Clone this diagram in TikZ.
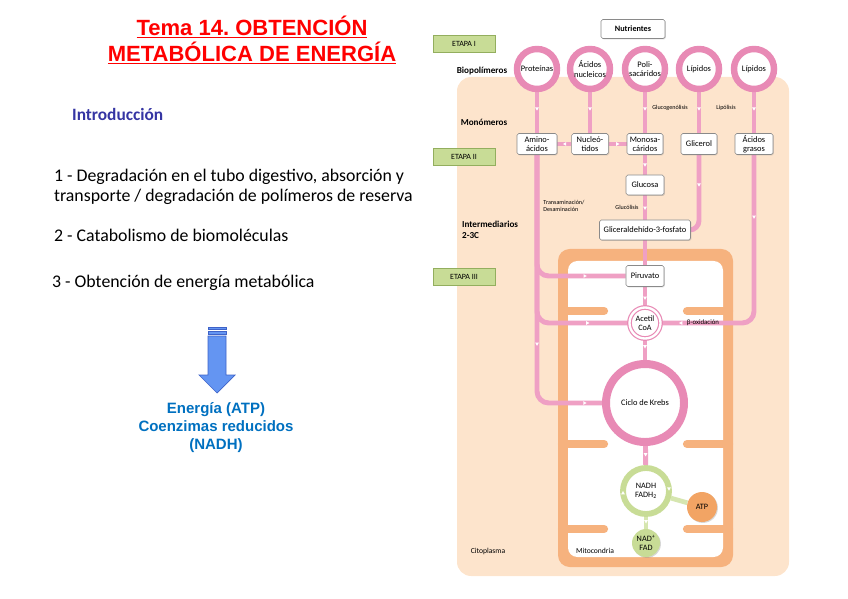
\documentclass[tikz,border=0pt]{standalone}
\usepackage{fontspec}
\setmainfont{Carlito}
\newfontfamily\arialfont{Liberation Sans}
\usepackage{tikz}
\usetikzlibrary{arrows.meta,positioning,calc,backgrounds,shadows,decorations.markings}
\definecolor{Rosa}{HTML}{EFA0C4}
\definecolor{RosaRing}{HTML}{E88AB5}
\definecolor{Beige}{HTML}{FDE4CC}
\definecolor{Naranja}{HTML}{F6B27E}
\definecolor{AtpNaranja}{HTML}{F2A464}
\definecolor{Verde}{HTML}{C8DC96}
\definecolor{VerdeClaro}{HTML}{D6E6B0}
\definecolor{VerdeEdge}{HTML}{93AE5E}
\definecolor{Indigo}{HTML}{3535A3}
\definecolor{Azul}{HTML}{0070C0}
\definecolor{ArrowFill}{HTML}{6495F2}
\definecolor{ArrowEdge}{HTML}{3E62C8}
\definecolor{Gris}{HTML}{8A8A8A}
\pgfdeclarelayer{lines}
\pgfsetlayers{background,lines,main}

\begin{document}
\begin{tikzpicture}[x=0.03cm,y=-0.03cm,
  sombra/.style={drop shadow={opacity=0.3,shadow xshift=0.8pt,shadow yshift=-0.8pt}},
  box/.style={draw=Gris,fill=white,rounded corners=1.5pt,line width=0.5pt,sombra,
    font=\fontsize{7.2}{7.6}\selectfont,align=center,inner sep=1pt,minimum height=0.63cm},
  etapa/.style={draw=VerdeEdge,fill=Verde,line width=0.5pt,sombra,minimum width=1.86cm,
    minimum height=0.5cm,font=\fontsize{6.8}{7}\selectfont},
  biopol/.style={circle,draw=RosaRing,line width=5.5pt,fill=white,minimum size=1.2cm,
    inner sep=0pt,align=center,font=\fontsize{7.2}{8}\selectfont,sombra},
  lado/.style={font=\bfseries\fontsize{7.8}{9.4}\selectfont,align=left},
  nota/.style={font=\fontsize{5.2}{6.2}\selectfont,align=left,inner sep=1pt},
  via/.style={draw=Rosa,line width=4.2pt},
  verdevia/.style={draw=VerdeClaro,line width=4pt},
  flow/.style={postaction={decorate,decoration={markings,
    mark=at position #1 with {\arrow{Triangle[color=white,length=2.8pt,width=3.2pt,line width=0pt]}}}}},
  flowrev/.style={postaction={decorate,decoration={markings,
    mark=at position #1 with {\arrowreversed{Triangle[color=white,length=2.8pt,width=3.2pt,line width=0pt]}}}}}]
  \useasboundingbox (0,0) rectangle (848,599);

  % left column
  \node[text=red,align=center,font=\arialfont\bfseries\fontsize{18.8}{22.2}\selectfont] (tit) at (252,40)
    {\underline{Tema 14.~OBTENCIÓN}\\\underline{METABÓLICA DE ENERGÍA}};
  \node[anchor=west,text=Indigo,font=\bfseries\fontsize{14.8}{17}\selectfont] (intro) at (68,114) {Introducción};
  \node[anchor=west,align=left,font=\fontsize{15.2}{17}\selectfont] (p1) at (50,187)
    {1 - Degradación en el tubo digestivo, absorción y\\transporte / degradación de polímeros de reserva};
  \node[anchor=west,font=\fontsize{15.2}{17}\selectfont] (p2) at (50,235) {2 - Catabolismo de biomoléculas};
  \node[anchor=west,font=\fontsize{15.2}{17}\selectfont] (p3) at (48,283) {3 - Obtención de energía metabólica};
  \draw[fill=ArrowFill,draw=ArrowEdge,line width=0.6pt] (208,327) rectangle (226,329.5);
  \draw[fill=ArrowFill,draw=ArrowEdge,line width=0.6pt] (208,331.5) rectangle (226,334);
  \draw[fill=ArrowFill,draw=ArrowEdge,line width=0.6pt] (208,336) -- (226,336) -- (226,375) -- (235,375)
    -- (217,393) -- (199,375) -- (208,375) -- cycle;
  \node[text=Azul,align=center,font=\arialfont\bfseries\fontsize{12.8}{15.4}\selectfont] (ener) at (216,428)
    {Energía (ATP)\\Coenzimas reducidos\\(NADH)};

  % cell
  \begin{scope}[on background layer]
    \fill[Beige,rounded corners=12] (457,77) rectangle (789,576);
    \fill[Naranja,rounded corners=10] (558,249) rectangle (733,567);
    \fill[white,rounded corners=8] (568,261) rectangle (723,557);
    \foreach \y in {311,444,529}{
      \draw[Naranja,line width=7pt,line cap=round] (562,\y) -- (604,\y);
      \draw[Naranja,line width=7pt,line cap=round] (687,\y) -- (729,\y);
    }
  \end{scope}

  \node[box,font=\bfseries\fontsize{7}{7.5}\selectfont,minimum width=1.92cm,minimum height=0.57cm] (nutri) at (633,29) {Nutrientes};
  \node[etapa] (e1) at (464,44) {ETAPA I};
  \node[etapa] (e2) at (464,157) {ETAPA II};
  \node[etapa] (e3) at (464,277) {ETAPA III};
  \node[lado] (lbio) at (482,71) {Biopolímeros};
  \node[lado] (lmon) at (484,122) {Monómeros};
  \node[lado,anchor=west] (lint) at (458,230) {Intermediarios\\2-3C};

  \foreach \n/\x/\t in {prot/537/Proteínas,acnu/590/Ácidos\\nucleicos,poli/645/Poli-\\sacáridos,lip1/699/Lípidos,lip2/754/Lípidos}
    \node[biopol] (\n) at (\x,69) {\t};
  \node[box,minimum width=1.2cm] (amino) at (537,144) {Amino-\\ácidos};
  \node[box,minimum width=1.1cm] (nucl) at (590,144) {Nucleó-\\tidos};
  \node[box,minimum width=1.08cm] (mono) at (645,144) {Monosa-\\cáridos};
  \node[box,minimum width=1.08cm] (glic) at (699,144) {Glicerol};
  \node[box,minimum width=1.14cm] (acgr) at (754,144) {Ácidos\\grasos};
  \node[box,minimum width=1.14cm,minimum height=0.6cm] (gluc) at (645,185) {Glucosa};
  \node[box,minimum width=2.73cm,minimum height=0.6cm] (g3p) at (645,230) {Gliceraldehído-3-fosfato};
  \node[box,minimum width=1.14cm,minimum height=0.63cm] (piru) at (645,276) {Piruvato};
  \node[circle,draw=RosaRing,double=white,line width=1pt,double distance=2pt,fill=white,minimum size=0.93cm,
    inner sep=0pt,align=center,font=\fontsize{7}{7.5}\selectfont,sombra] (acoa) at (645,323) {Acetil\\CoA};
  \node[circle,draw=RosaRing,line width=6.8pt,fill=white,minimum size=2.34cm,sombra,
    font=\fontsize{7.2}{8}\selectfont] (krebs) at (645,403) {Ciclo de Krebs};
  \node[circle,draw=Verde,line width=5pt,fill=white,minimum size=1.38cm,inner sep=0pt,align=center,
    font=\fontsize{7}{8}\selectfont,sombra] (nadh) at (646,491) {NADH\\FADH\textsubscript{2}};
  \node[circle,fill=AtpNaranja,minimum size=0.9cm,inner sep=0pt,font=\fontsize{7}{7.5}\selectfont,sombra] (atp) at (702,507) {ATP};
  \node[circle,fill=Verde,minimum size=0.84cm,inner sep=0pt,align=center,font=\fontsize{7}{7.5}\selectfont,sombra] (nadf) at (646,543)
    {NAD\textsuperscript{+}\\FAD};

  \node[nota] (lglu) at (670,108) {Glucogenólisis};
  \node[nota] (llip) at (726,108) {Lipólisis};
  \node[nota,anchor=west] (ltra) at (542,206) {Transaminación/\\Desaminación};
  \node[nota] (lgli) at (627,207) {Glucólisis};
  \node[nota,font=\fontsize{5.8}{6}\selectfont] (lbox) at (703,323) {β-oxidación};
  \node[nota,font=\fontsize{6.5}{7}\selectfont] (lcit) at (488,551) {Citoplasma};
  \node[nota,font=\fontsize{6.5}{7}\selectfont] (lmit) at (595,551) {Mitocondria};

  \begin{pgfonlayer}{lines}
    \foreach \a/\b in {prot/amino,acnu/nucl,poli/mono,lip1/glic,lip2/acgr}
      \draw[via,flow=0.45] (\a) -- (\b);
    \draw[via,flow=0.6] (nucl) -- (amino);
    \draw[via,flow=0.6] (nucl) -- (mono);
    \draw[via,flow=0.6] (mono) -- (gluc);
    \draw[via,flow=0.6] (gluc) -- (g3p);
    \draw[via] (g3p) -- (piru);
    \draw[via,flow=0.65] (piru) -- (acoa);
    \draw[via,flow=0.45] (acoa) -- (krebs);
    \draw[via,rounded corners=8,flow=0.39] (glic) |- (g3p);
    \draw[via,rounded corners=10,flow=0.25,flow=0.93] (acgr) |- (acoa);
    \draw[via,rounded corners=10,flow=0.22,flow=0.81] (amino) |- (piru);
    \draw[via,rounded corners=10,flow=0.52,flow=0.845] (amino) |- (acoa);
    \draw[via,rounded corners=10,flow=0.62,flow=0.95] (amino) |- (krebs);
    \draw[via,flow=0.55] (krebs) -- (nadh);
    \draw[verdevia,flow=0.55] (nadh) -- (nadf);
    \draw[verdevia] (nadh) -- (atp);
  \end{pgfonlayer}
  \path[flowrev=0.002,flowrev=0.5] (nadh.center) circle[radius=0.69cm];
\end{tikzpicture}
\end{document}
